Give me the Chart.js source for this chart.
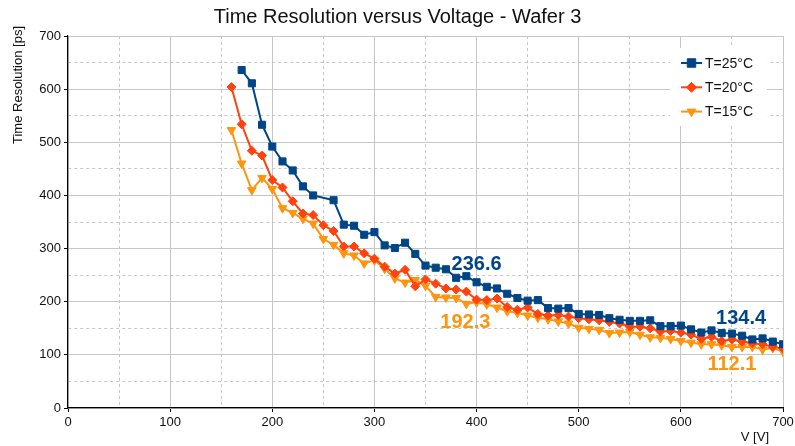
<!DOCTYPE html>
<html lang="en">
<head>
    <meta charset="UTF-8">
    <script src="https://cdn.jsdelivr.net/npm/chart.js"></script>
    <style>
        html, body { margin: 0; padding: 0; background: #fff; }
    </style>
</head>
<body>
    <canvas id="myChart" width="795" height="446"></canvas>

    <script>
        // voltages (V) and time resolution (ps) per temperature
        const volts25 = [170, 180, 190, 200, 210, 220, 230, 240, 260, 270, 280, 290, 300, 310, 320, 330, 340, 350, 360, 370,
                         380, 390, 400, 410, 420, 430, 440, 450, 460, 470, 480, 490, 500, 510, 520, 530, 540, 550, 560, 570,
                         580, 590, 600, 610, 620, 630, 640, 650, 660, 670, 680, 690, 700];
        const res25 = [636, 611, 533, 492, 464, 447, 417, 400, 391, 345, 343, 326, 331, 306, 301, 311, 290, 268, 264, 261,
                       245, 248, 236.6, 228, 225, 215, 207, 202, 203, 188, 187, 188, 177, 176, 175, 169, 166, 164, 164, 165,
                       154, 154, 155, 148, 142, 146, 141, 140, 136, 129, 131, 125, 120];

        const volts = [160, 170, 180, 190, 200, 210, 220, 230, 240, 250, 260, 270, 280, 290, 300, 310, 320, 330, 340, 350,
                       360, 370, 380, 390, 400, 410, 420, 430, 440, 450, 460, 470, 480, 490, 500, 510, 520, 530, 540, 550,
                       560, 570, 580, 590, 600, 610, 620, 630, 640, 650, 660, 670, 680, 690, 700];
        const res20 = [604, 534, 484, 475, 429, 415, 389, 366, 363, 344, 333, 304, 304, 291, 281, 266, 253, 260, 229, 242,
                       234, 225, 223, 219, 204, 203, 206, 190, 185, 189, 177, 174, 175, 172, 169, 167, 165, 162, 159, 153,
                       153, 150, 144, 145, 142, 138, 130, 134, 126, 129, 125, 122, 120, 115, 112];
        const res15 = [523, 460, 410, 433, 412, 376, 367, 356, 347, 318, 307, 291, 287, 272, 278, 262, 244, 236, 241, 230,
                       209, 208, 207, 196, 199, 195, 189, 182, 179, 174, 170, 167, 163, 159, 151, 149, 147, 141, 142, 143,
                       138, 133, 132, 130, 126, 123, 120, 120, 118, 115, 115, 115, 110, 113, 106];

        const seriesNames = ['T=25°C', 'T=20°C', 'T=15°C'];
        const xTicks = [0, 100, 200, 300, 400, 500, 600, 700];
        const yTicks = [0, 100, 200, 300, 400, 500, 600, 700];
        const noteTexts = ['236.6', '192.3', '134.4', '112.1'];

        const BLUE = '#004586';
        const RED = '#ff420e';
        const ORANGE = '#ff950e';
        const GRID = '#c6c6c6';
        const FONT = '"Liberation Sans", Arial, sans-serif';

        const toPoints = (xs, ys) => xs.map((x, i) => ({ x: x, y: ys[i] }));
        const isMajor = (v, list) => list.indexOf(v) !== -1;

        // small marker painter for the legend
        function marker(ctx, style, x, y, r) {
            ctx.beginPath();
            if (style === 'rect') {
                const s = r * Math.SQRT1_2;
                ctx.rect(x - s, y - s, 2 * s, 2 * s);
            } else if (style === 'rectRot') {
                ctx.moveTo(x, y - r); ctx.lineTo(x + r, y); ctx.lineTo(x, y + r); ctx.lineTo(x - r, y);
                ctx.closePath();
            } else {
                const h = r * 0.866;
                ctx.moveTo(x - h, y - r / 2); ctx.lineTo(x + h, y - r / 2); ctx.lineTo(x, y + r);
                ctx.closePath();
            }
            ctx.fill();
            ctx.stroke();
        }

        const extras = {
            id: 'extras',
            afterDraw(chart) {
                const ctx = chart.ctx;
                const xs = chart.scales.x, ys = chart.scales.y;
                ctx.save();

                // value notes
                const notes = [
                    { t: noteTexts[0], x: 400, y: 270, c: BLUE },
                    { t: noteTexts[1], x: 389, y: 161, c: ORANGE },
                    { t: noteTexts[2], x: 659, y: 168, c: BLUE },
                    { t: noteTexts[3], x: 650, y: 82, c: ORANGE }
                ];
                ctx.font = 'bold 20px ' + FONT;
                ctx.textAlign = 'center';
                ctx.textBaseline = 'middle';
                notes.forEach(n => {
                    ctx.fillStyle = n.c;
                    ctx.fillText(n.t, xs.getPixelForValue(n.x), ys.getPixelForValue(n.y));
                });

                // legend box
                ctx.fillStyle = '#fff';
                ctx.fillRect(670, 48, 97, 78);
                ctx.font = '14px ' + FONT;
                ctx.textAlign = 'left';
                chart.data.datasets.forEach((ds, i) => {
                    const y = 63 + i * 24.3;
                    ctx.strokeStyle = ds.borderColor;
                    ctx.fillStyle = ds.backgroundColor;
                    ctx.lineWidth = 2;
                    ctx.beginPath(); ctx.moveTo(681, y); ctx.lineTo(702, y); ctx.stroke();
                    ctx.lineWidth = 1;
                    marker(ctx, ds.pointStyle, 691.5, y, ds.pointStyle === 'rect' ? 6 : 5);
                    ctx.fillStyle = '#111';
                    ctx.fillText(ds.label, 705, y + 1);
                });

                // axis titles
                ctx.fillStyle = '#111';
                ctx.font = '13px ' + FONT;
                ctx.textAlign = 'right';
                ctx.fillText('V [V]', 769, 437);
                ctx.translate(18, 85);
                ctx.rotate(-Math.PI / 2);
                ctx.textAlign = 'center';
                ctx.fillText('Time Resolution [ps]', 0, 0);
                ctx.restore();
            }
        };

        const gridOpts = (list) => ({
            color: GRID,
            lineWidth: 1,
            tickLength: 4,
            tickColor: (c) => c.tick && isMajor(c.tick.value, list) ? '#000' : 'rgba(0,0,0,0)'
        });
        const borderOpts = (list) => ({
            color: '#000',
            width: 1.2,
            dash: (c) => c.tick && !isMajor(c.tick.value, list) ? [3, 3] : []
        });

        new Chart(document.getElementById('myChart'), {
            type: 'line',
            data: {
                datasets: [{
                    label: seriesNames[0],
                    data: toPoints(volts25, res25),
                    borderColor: BLUE,
                    backgroundColor: BLUE,
                    borderWidth: 2,
                    pointStyle: 'rect',
                    pointRadius: 5,
                    pointBorderWidth: 1
                }, {
                    label: seriesNames[1],
                    data: toPoints(volts, res20),
                    borderColor: RED,
                    backgroundColor: RED,
                    borderWidth: 2,
                    pointStyle: 'rectRot',
                    pointRadius: 4.5,
                    pointBorderWidth: 1
                }, {
                    label: seriesNames[2],
                    data: toPoints(volts, res15),
                    borderColor: ORANGE,
                    backgroundColor: ORANGE,
                    borderWidth: 2,
                    pointStyle: 'triangle',
                    pointRotation: 180,
                    pointRadius: 5,
                    pointBorderWidth: 1
                }]
            },
            options: {
                responsive: false,
                animation: false,
                devicePixelRatio: 1,
                layout: { padding: { left: 0, right: 0, top: 0, bottom: 0 } },
                plugins: {
                    legend: { display: false },
                    tooltip: { enabled: false },
                    title: {
                        display: true,
                        text: 'Time Resolution versus Voltage - Wafer 3',
                        color: '#111',
                        font: { family: FONT, size: 20, weight: 'normal', lineHeight: 1.2 },
                        padding: { top: 5, bottom: 7 }
                    }
                },
                scales: {
                    x: {
                        type: 'linear',
                        min: 0,
                        max: 700,
                        afterFit: (s) => { s.height = 38; s.paddingRight = 12; },
                        ticks: {
                            stepSize: 50,
                            autoSkip: false,
                            maxRotation: 0,
                            padding: 3,
                            color: '#111',
                            font: { family: FONT, size: 13 },
                            callback: (v) => isMajor(v, xTicks) ? v : ''
                        },
                        grid: gridOpts(xTicks),
                        border: borderOpts(xTicks)
                    },
                    y: {
                        min: 0,
                        max: 700,
                        afterFit: (s) => { s.width = 68; },
                        ticks: {
                            stepSize: 50,
                            autoSkip: false,
                            padding: 3,
                            color: '#111',
                            font: { family: FONT, size: 13 },
                            callback: (v) => isMajor(v, yTicks) ? v : ''
                        },
                        grid: gridOpts(yTicks),
                        border: borderOpts(yTicks)
                    }
                }
            },
            plugins: [extras]
        });
    </script>
</body>
</html>
